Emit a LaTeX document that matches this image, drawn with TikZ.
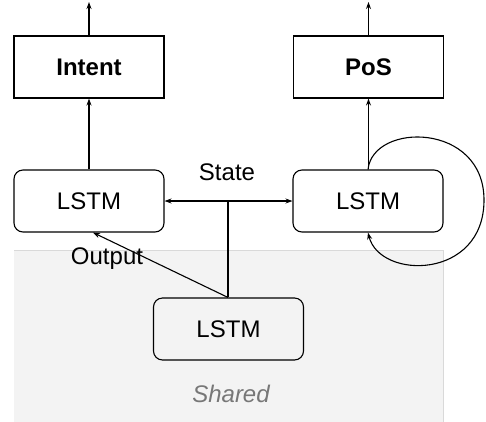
\documentclass[tikz,border=0pt]{standalone}
\usepackage{fontspec}
\setmainfont{Liberation Sans}
\usetikzlibrary{arrows.meta,calc}
\definecolor{sharedfill}{HTML}{F3F3F3}
\definecolor{sharedline}{HTML}{D9D9D9}
\definecolor{sharedtext}{HTML}{777777}
\tikzset{
  box/.style={draw=black, line width=1.1pt, minimum width=150pt, minimum height=62pt, inner sep=0pt, font=\fontsize{24}{28}\selectfont\bfseries},
  lstm/.style={draw=black, line width=1.1pt, rounded corners=9pt, minimum width=150pt, minimum height=62pt, inner sep=0pt, font=\fontsize{24}{28}\selectfont},
  conn/.style={line width=1.1pt, -{Stealth[length=7pt,width=5pt]}},
  lbl/.style={font=\fontsize{24}{28}\selectfont, inner sep=0pt},
}
\begin{document}
\begin{tikzpicture}[x=1pt,y=-1pt]
\useasboundingbox (0,0) rectangle (486,421);
\fill[sharedfill] (14,250) rectangle (443,425);
\draw[sharedline, line width=0.8pt] (14,250) -- (443,250) -- (443,425);
\node[lbl, text=sharedtext, font=\fontsize{24}{28}\selectfont\itshape] (shared) at (231,394) {Shared};

\node[box] (intent) at (89,67) {Intent};
\node[box] (pos) at (368.5,67) {PoS};
\node[lstm] (l) at (89,201) {LSTM};
\node[lstm] (r) at (368,201) {LSTM};
\node[lstm] (b) at (228.5,329) {LSTM};

\coordinate (intentout) at (89,2);
\coordinate (posout) at (368.5,2);
\coordinate (junc) at (228,201);

\draw[conn] (intent.north) -- (intentout);
\draw[conn] (pos.north) -- (posout);
\draw[conn] (l.north) -- (intent.south);
\draw[conn] (r.north -| pos.south) -- (pos.south);

\draw[line width=1.1pt] (b.north -| junc) -- (junc);
\draw[conn] (junc) -- (l.east);
\draw[conn] (junc) -- (r.west);
\node[lbl] (state) at (227,172) {State};

\draw[conn] (b.north -| junc) -- ([xshift=4pt]l.south);
\node[lbl] (output) at (107,259) {Output};

\draw[conn] (r.north) .. controls (373,122) and (484,122) .. (484,200)
  .. controls (484,280) and (380,280) .. (r.south);
\end{tikzpicture}
\end{document}
